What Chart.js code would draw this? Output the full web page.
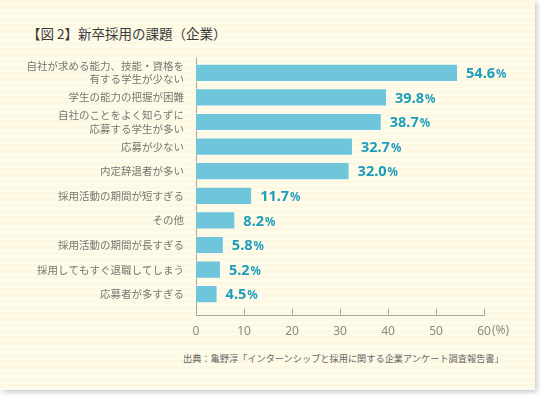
<!DOCTYPE html>
<html><head><meta charset="utf-8">
<script src="https://cdn.jsdelivr.net/npm/chart.js@4"></script>
<style>
html,body{margin:0;padding:0;background:#fff;width:543px;height:399px;overflow:hidden;}
#card{position:absolute;left:0;top:0;width:535px;height:390px;
 background:repeating-linear-gradient(180deg,#fdf8e1 0px,#fdf8e1 3px,#fefbeb 3px,#fefbeb 6px);
 box-shadow:2px 2px 5px rgba(0,0,0,0.22);}
#title{position:absolute;left:27px;top:23px;font:13.5px "Noto Sans CJK JP",sans-serif;color:#3a3a3a;white-space:nowrap;}
#src{position:absolute;left:183px;top:351px;font:9.2px "Noto Sans CJK JP",sans-serif;color:#666;white-space:nowrap;}
canvas{position:absolute;left:0;top:0;}
</style></head><body>
<div id="card"></div>
<div id="title">【図 2】新卒採用の課題（企業）</div>
<div id="src">出典：亀野淳「インターンシップと採用に関する企業アンケート調査報告書」</div>
<canvas id="c" width="543" height="399"></canvas>
<script>
const categories = [
  ["自社が求める能力、技能・資格を","有する学生が少ない"],
  "学生の能力の把握が困難",
  ["自社のことをよく知らずに","応募する学生が多い"],
  "応募が少ない",
  "内定辞退者が多い",
  "採用活動の期間が短すぎる",
  "その他",
  "採用活動の期間が長すぎる",
  "採用してもすぐ退職してしまう",
  "応募者が多すぎる"
];
const values = [54.6, 39.8, 38.7, 32.7, 32.0, 11.7, 8.2, 5.8, 5.2, 4.5];
const xTicks = [0, 10, 20, 30, 40, 50, 60];
const unitLabel = "(%)";

const axisPlugin = {
  id: 'axisLines',
  beforeDatasetsDraw(chart) {
    const ctx = chart.ctx, x = chart.scales.x, a = chart.chartArea;
    const x0 = x.getPixelForValue(0), x1 = x.getPixelForValue(60);
    const yb = a.bottom + 8, yt = a.top - 3;
    ctx.save();
    ctx.strokeStyle = '#a9a79c'; ctx.lineWidth = 1;
    ctx.beginPath();
    ctx.moveTo(Math.round(x0) + 0.5, yt); ctx.lineTo(Math.round(x0) + 0.5, yb);
    ctx.moveTo(x0, Math.round(yb) + 0.5); ctx.lineTo(x1 + 1, Math.round(yb) + 0.5);
    xTicks.forEach(v => {
      const px = Math.round(x.getPixelForValue(v)) + 0.5;
      ctx.moveTo(px, yb); ctx.lineTo(px, yb - 6);
    });
    ctx.stroke();
    ctx.restore();
  },
  afterDraw(chart) {
    const ctx = chart.ctx, x = chart.scales.x;
    ctx.save();
    ctx.font = '12px "Noto Sans", sans-serif';
    ctx.fillStyle = '#8a8a80';
    ctx.textBaseline = 'middle';
    ctx.textAlign = 'left';
    ctx.fillText(unitLabel, x.getPixelForValue(60) + 8, 331);
    const meta = chart.getDatasetMeta(0);
    meta.data.forEach((bar, i) => {
      const num = values[i].toFixed(1);
      ctx.font = 'bold 14.5px "Noto Sans", sans-serif';
      ctx.fillStyle = '#1d9dbd';
      const px = bar.x + 8;
      ctx.fillText(num, px, bar.y + 1);
      const w = ctx.measureText(num).width;
      ctx.font = 'bold 11.5px "Noto Sans", sans-serif';
      ctx.fillText('%', px + w + 1, bar.y + 2);
    });
    ctx.restore();
  }
};

new Chart(document.getElementById('c'), {
  type: 'bar',
  data: {
    labels: categories,
    datasets: [{
      data: values,
      backgroundColor: '#6fc6da',
      borderColor: 'rgba(255,255,255,0.55)',
      borderWidth: 1,
      borderSkipped: 'left',
      barPercentage: 0.74,
      categoryPercentage: 1
    }]
  },
  options: {
    indexAxis: 'y',
    responsive: false,
    animation: false,
    layout: { padding: { top: 60.5, right: 59, left: 0, bottom: 0 } },
    plugins: { legend: { display: false }, tooltip: { enabled: false } },
    scales: {
      x: {
        min: 0, max: 60,
        afterBuildTicks(s) { s.ticks = xTicks.map(v => ({ value: v })); },
        afterFit(s) { s.height = 399 - 60.5 - 246; },
        grid: { display: false, drawTicks: false },
        border: { display: false },
        ticks: { padding: 18, color: '#8a8a80', font: { size: 12, family: '"Noto Sans", sans-serif' }, maxRotation: 0,
          autoSkip: false, callback: v => String(v) }
      },
      y: {
        afterFit(s) { s.width = 196; },
        grid: { display: false, drawTicks: false },
        border: { display: false },
        ticks: { padding: 12, autoSkip: false, color: '#777770', font: { size: 10.5, family: '"Noto Sans CJK JP", sans-serif', lineHeight: 1.25 } }
      }
    }
  },
  plugins: [axisPlugin]
});
</script>
</body></html>
